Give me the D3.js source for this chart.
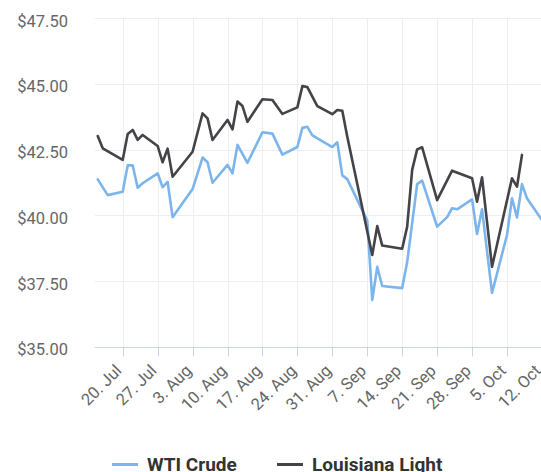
<!DOCTYPE html>
<html>
<head>
<meta charset="utf-8">
<script src="https://cdn.jsdelivr.net/npm/d3@7"></script>
<style>
  html, body { margin: 0; padding: 0; background: #ffffff; overflow: hidden; }
  svg { display: block; font-family: Roboto, "Noto Sans", sans-serif; }
</style>
</head>
<body>
<svg id="chart" width="541" height="472"></svg>
<script>
// ---- Data ----
const wtiDates = ["2020-07-15","2020-07-17","2020-07-20","2020-07-21","2020-07-22","2020-07-23","2020-07-24",
  "2020-07-27","2020-07-28","2020-07-29","2020-07-30","2020-08-03","2020-08-05","2020-08-06","2020-08-07",
  "2020-08-10","2020-08-11","2020-08-12","2020-08-14","2020-08-17","2020-08-19","2020-08-21","2020-08-24",
  "2020-08-25","2020-08-26","2020-08-27","2020-08-31","2020-09-01","2020-09-02","2020-09-03","2020-09-07",
  "2020-09-08","2020-09-09","2020-09-10","2020-09-14","2020-09-15","2020-09-17","2020-09-18","2020-09-21",
  "2020-09-23","2020-09-24","2020-09-25","2020-09-28","2020-09-29","2020-09-30","2020-10-02","2020-10-05",
  "2020-10-06","2020-10-07","2020-10-08","2020-10-09","2020-10-12"];
const wtiValues = [41.37,40.77,40.90,41.90,41.90,41.05,41.22,
  41.60,41.07,41.27,39.93,41.00,42.20,42.02,41.24,
  41.92,41.60,42.68,42.00,43.16,43.11,42.31,42.60,
  43.33,43.37,43.04,42.60,42.78,41.52,41.38,39.80,
  36.78,38.04,37.31,37.23,38.22,41.19,41.32,39.57,
  39.93,40.27,40.23,40.61,39.29,40.23,37.05,39.25,
  40.65,39.92,41.19,40.65,39.82];

const llsDates = ["2020-07-15","2020-07-16","2020-07-20","2020-07-21","2020-07-22","2020-07-23","2020-07-24",
  "2020-07-27","2020-07-28","2020-07-29","2020-07-30","2020-08-03","2020-08-05","2020-08-06","2020-08-07",
  "2020-08-10","2020-08-11","2020-08-12","2020-08-13","2020-08-14","2020-08-17","2020-08-19","2020-08-21",
  "2020-08-24","2020-08-25","2020-08-26","2020-08-28","2020-08-31","2020-09-01","2020-09-02","2020-09-03",
  "2020-09-08","2020-09-09","2020-09-10","2020-09-14","2020-09-15","2020-09-16","2020-09-17","2020-09-18",
  "2020-09-21","2020-09-24","2020-09-28","2020-09-29","2020-09-30","2020-10-02","2020-10-06","2020-10-07",
  "2020-10-08"];
const llsValues = [43.02,42.55,42.11,43.10,43.25,42.87,43.06,
  42.64,42.02,42.54,41.47,42.42,43.88,43.69,42.87,
  43.63,43.27,44.33,44.16,43.56,44.42,44.39,43.86,
  44.11,44.92,44.88,44.16,43.85,44.01,43.98,42.99,
  38.49,39.59,38.85,38.73,39.57,41.73,42.51,42.59,
  40.58,41.70,41.41,40.52,41.45,38.04,41.41,41.09,
  42.30];

const yTicks = [35, 37.5, 40, 42.5, 45, 47.5];
const xTickStart = "2020-07-20", xTickEnd = "2020-10-13";
const seriesNames = ["WTI Crude", "Louisiana Light"];
const seriesColors = ["#7cb5ec", "#434348"];

// ---- Layout ----
const W = 541, H = 472;
const plotLeft = 95, plotRight = 600, plotTop = 18.3, plotBottom = 346.7;
const parse = d3.utcParse("%Y-%m-%d");

const x = d3.scaleUtc()
  .domain([parse("2020-07-20"), parse("2020-10-05")])
  .range([122.7, 507]);
const y = d3.scaleLinear().domain([35, 47.5]).range([plotBottom, plotTop]);

const svg = d3.select("#chart");
svg.append("rect").attr("width", W).attr("height", H).attr("fill", "#ffffff");

// weekly Monday ticks
const xTicks = d3.utcMonday.range(parse(xTickStart), parse(xTickEnd));
const fmt = d3.utcFormat("%-d. %b");

// vertical grid
svg.append("g").selectAll("line").data(xTicks).join("line")
  .attr("x1", d => Math.round(x(d)) + 0.5).attr("x2", d => Math.round(x(d)) + 0.5)
  .attr("y1", plotTop).attr("y2", plotBottom)
  .attr("stroke", "#eeeeee").attr("stroke-width", 1);

// horizontal grid
svg.append("g").selectAll("line").data(yTicks).join("line")
  .attr("x1", plotLeft).attr("x2", plotRight)
  .attr("y1", d => Math.round(y(d)) + 0.5).attr("y2", d => Math.round(y(d)) + 0.5)
  .attr("stroke", "#eeeeee").attr("stroke-width", 1);

// x axis line + ticks
svg.append("line")
  .attr("x1", plotLeft).attr("x2", plotRight)
  .attr("y1", Math.round(plotBottom) + 0.5).attr("y2", Math.round(plotBottom) + 0.5)
  .attr("stroke", "#ccd6eb").attr("stroke-width", 1);
svg.append("g").selectAll("line").data(xTicks).join("line")
  .attr("x1", d => Math.round(x(d)) + 0.5).attr("x2", d => Math.round(x(d)) + 0.5)
  .attr("y1", plotBottom).attr("y2", plotBottom + 10)
  .attr("stroke", "#ccd6eb").attr("stroke-width", 1);

// x labels
svg.append("g").selectAll("text").data(xTicks).join("text")
  .attr("transform", d => `translate(${x(d) + 0},${plotBottom + 25}) rotate(-45)`)
  .attr("text-anchor", "end")
  .attr("fill", "#666666")
  .attr("font-size", "16.5px")
  .text(d => fmt(d));

// y labels
svg.append("g").selectAll("text").data(yTicks).join("text")
  .attr("x", 68).attr("y", d => y(d) + 8.5)
  .attr("text-anchor", "end")
  .attr("fill", "#666666")
  .attr("font-size", "16.5px")
  .text(d => "$" + d.toFixed(2));

// clip
svg.append("clipPath").attr("id", "plotclip")
  .append("rect").attr("x", plotLeft).attr("y", 0).attr("width", plotRight - plotLeft).attr("height", plotBottom + 5);

const line = d3.line().x(d => x(d[0])).y(d => y(d[1]));
const wti = wtiDates.map((d, i) => [parse(d), wtiValues[i]]);
const lls = llsDates.map((d, i) => [parse(d), llsValues[i]]);

const g = svg.append("g").attr("clip-path", "url(#plotclip)");
g.append("path").datum(wti).attr("d", line)
  .attr("fill", "none").attr("stroke", seriesColors[0]).attr("stroke-width", 2.6)
  .attr("stroke-linejoin", "round").attr("stroke-linecap", "round");
g.append("path").datum(lls).attr("d", line)
  .attr("fill", "none").attr("stroke", seriesColors[1]).attr("stroke-width", 2.6)
  .attr("stroke-linejoin", "round").attr("stroke-linecap", "round");

// legend
const legendItems = [
  { name: seriesNames[0], color: seriesColors[0], x0: 112 },
  { name: seriesNames[1], color: seriesColors[1], x0: 277 }
];
const lg = svg.append("g");
legendItems.forEach(it => {
  lg.append("line").attr("x1", it.x0).attr("x2", it.x0 + 26)
    .attr("y1", 464.5).attr("y2", 464.5)
    .attr("stroke", it.color).attr("stroke-width", 3);
  lg.append("text").attr("x", it.x0 + 35).attr("y", 471)
    .attr("fill", "#333333").attr("font-weight", "bold").attr("font-size", "19px")
    .text(it.name);
});
</script>
</body>
</html>
